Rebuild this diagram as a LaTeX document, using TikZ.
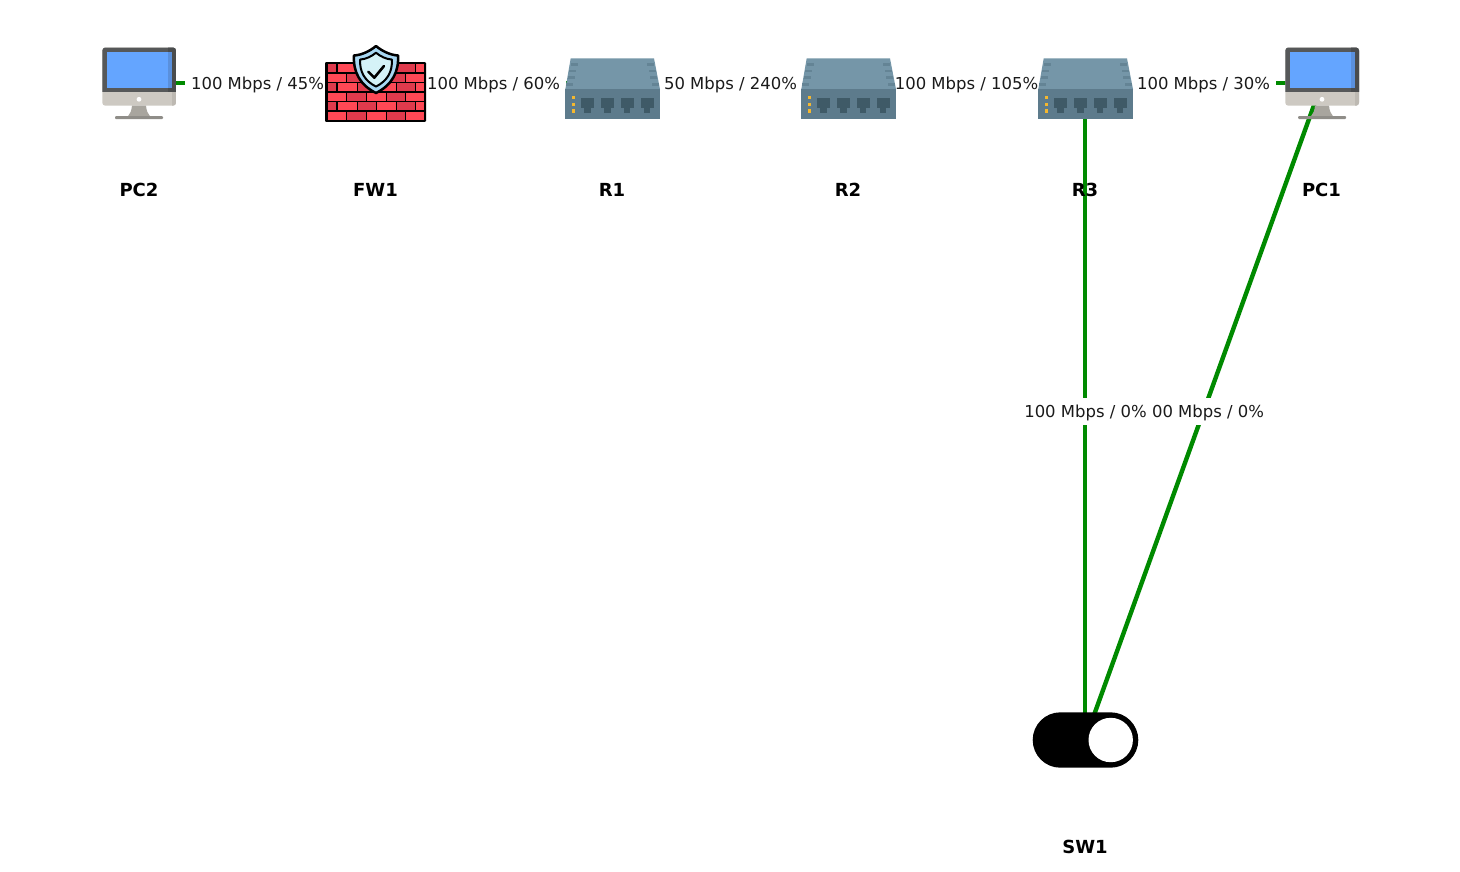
\documentclass[tikz,border=0pt]{standalone}
\usepackage{fontspec}
\setmainfont{DejaVu Sans}
\definecolor{linkgreen}{HTML}{008A00}
\definecolor{labelink}{HTML}{1A1A1A}
\definecolor{pcframe}{HTML}{565859}
\definecolor{pcframedk}{HTML}{4A4C4D}
\definecolor{pcscreen}{HTML}{64A5FF}
\definecolor{pcscreendk}{HTML}{5A90DC}
\definecolor{pcchin}{HTML}{CDC9C2}
\definecolor{pcchindk}{HTML}{BDB9B2}
\definecolor{pcstand}{HTML}{A8A59E}
\definecolor{pcfoot}{HTML}{8F8D88}
\definecolor{rtop}{HTML}{7596A8}
\definecolor{rfront}{HTML}{5D7B8C}
\definecolor{rport}{HTML}{3F5A67}
\definecolor{rvent}{HTML}{648495}
\definecolor{rled}{HTML}{F5B82E}
\definecolor{brickA}{HTML}{FF4855}
\definecolor{brickB}{HTML}{DF3A4C}
\definecolor{shieldA}{HTML}{A9D8F2}
\definecolor{shieldB}{HTML}{D5F2F7}
\newcommand{\shieldpath}{(0,-24) .. controls (6,-19) and (14,-15) .. (22,-14.5) .. controls (23,2) and (16,15) .. (0,23) .. controls (-16,15) and (-23,2) .. (-22,-14.5) .. controls (-14,-15) and (-6,-19) .. (0,-24) -- cycle}
\tikzset{
  x=1pt,y=-1pt,
  link/.style={draw=linkgreen,line width=4.4pt},
  linklabel/.style={fill=white,text=labelink,inner xsep=6.5pt,inner ysep=0pt,minimum height=27pt,text height=13pt,text depth=0pt,font=\fontsize{16.45}{20}\selectfont},
  devname/.style={text=black,inner sep=0pt,font=\fontsize{18}{22}\selectfont\bfseries},
  pcicon/.pic={
    \begin{scope}
      \clip[rounded corners=3pt] (-36.7,-35.5) rectangle (37,22.7);
      \fill[pcchin] (-37,-36) rectangle (38,23);
      \fill[pcchindk] (33,9) rectangle (38,23);
      \fill[pcframe] (-37,-36) rectangle (38,9);
      \fill[pcframedk] (29,-36) rectangle (38,9);
    \end{scope}
    \fill[pcscreen] (-32,-31) rectangle (29,5.3);
    \fill[pcscreendk] (29,-31) rectangle (33,5.3);
    \fill[white] (0,16.3) circle (2.4);
    \fill[pcstand] (-7,22.7) -- (7,22.7) .. controls (7.5,28) and (9,31) .. (11,33.2) -- (-11,33.2) .. controls (-9,31) and (-7.5,28) .. (-7,22.7) -- cycle;
    \fill[pcfoot,rounded corners=1pt] (-24,33) rectangle (24,36);
  },
  routericon/.pic={
    \fill[rtop] (-41.8,-24.7) -- (41.5,-24.7) -- (47.5,6.3) -- (-47.2,6.3) -- cycle;
    \fill[rfront] (-47.5,6.3) rectangle (47.5,36);
    \foreach \dy/\dx in {-18.7/41.5,-12/43.2,-5.3/44.8,1.3/46.2}{
      \fill[rvent] (-\dx,\dy-1.3) rectangle (-\dx+7,\dy+1.3);
      \fill[rvent] (\dx,\dy-1.3) rectangle (\dx-7,\dy+1.3);
    }
    \foreach \ly in {13,19.7,26.3}{
      \fill[rled] (-40.8,\ly) rectangle (-37.8,\ly+3.3);
    }
    \foreach \px in {-31.5,-11.5,8.2,28.2}{
      \fill[rport] (\px,14.7) rectangle (\px+13,25.3);
      \fill[rport] (\px+3.3,25.3) rectangle (\px+9.7,29.5);
    }
  }
}
\begin{document}
\begin{tikzpicture}
\useasboundingbox (0,0) rectangle (1460,871);
% device anchors
\coordinate (pc2) at (139,83);
\coordinate (fw1) at (375.5,83);
\coordinate (r1) at (612.5,83);
\coordinate (r2) at (848.5,83);
\coordinate (r3) at (1085,83);
\coordinate (pc1) at (1322,83);
\coordinate (sw1) at (1085,740);
% connectors
\draw[link] (pc2) -- (fw1);
\draw[link] (fw1) -- (r1);
\draw[link] (r1) -- (r2);
\draw[link] (r2) -- (r3);
\draw[link] (r3) -- (pc1);
\draw[link] (r3) -- (sw1);
\draw[link] (pc1) -- (sw1);
% connector labels
\node[linklabel] (l1) at (257.5,83) {100 Mbps / 45\%};
\node[linklabel] (l2) at (493.5,83) {100 Mbps / 60\%};
\node[linklabel] (l3) at (730.5,83) {50 Mbps / 240\%};
\node[linklabel] (l4) at (966.5,83) {100 Mbps / 105\%};
\node[linklabel] (l5) at (1203.5,83) {100 Mbps / 30\%};
\node[linklabel] (l7) at (1208,411) {00 Mbps / 0\%};
\node[linklabel] (l6) at (1085.5,411) {100 Mbps / 0\%};
% icons
\pic at (pc2) {pcicon};
\pic at (pc1) {pcicon};
\pic at (r1) {routericon};
\pic at (r2) {routericon};
\pic[xshift=0.5pt] at (r3) {routericon};
% firewall
\fill[black,rounded corners=1pt] (325,62) rectangle (426,121.8);
\foreach \ya/\yb in {64/72,83/91,102/110}{
  \foreach \xa/\xb/\c in {327.5/335.5/brickB,337.5/356.5/brickA,357.5/375.5/brickB,376.5/395.5/brickA,396.5/414.5/brickB,416/423.7/brickA}{
    \fill[\c] (\xa,\ya) rectangle (\xb,\yb);
  }
}
\foreach \ya/\yb in {73.5/81.5,92.5/100.5,111.5/119.7}{
  \foreach \xa/\xb/\c in {327.5/345.5/brickA,347/365.5/brickB,366.5/385.5/brickA,386.5/405/brickB,406/423.7/brickA}{
    \fill[\c] (\xa,\ya) rectangle (\xb,\yb);
  }
}
\begin{scope}[shift={(376,70)}]
  \draw[black,line width=2.5pt,fill=shieldA,line join=round] \shieldpath;
  \begin{scope}[scale=0.72]
    \draw[black,line width=2pt,fill=shieldB,line join=round] \shieldpath;
  \end{scope}
  \draw[black,line width=2.6pt,line cap=round,line join=round] (-7.7,1.7) -- (-1.7,7.7) -- (8,-4);
\end{scope}
% switch
\fill[black,rounded corners=27.7pt] (1032.7,712.3) rectangle (1138.3,767.7);
\fill[white] (1110.7,740) circle (22.2);
% device names
\node[devname] (n1) at (139,190) {PC2};
\node[devname] (n2) at (375.5,190) {FW1};
\node[devname] (n3) at (612,190) {R1};
\node[devname] (n4) at (848,190) {R2};
\node[devname] (n5) at (1085,190) {R3};
\node[devname] (n6) at (1321.5,190) {PC1};
\node[devname] (n7) at (1085,847) {SW1};
\end{tikzpicture}
\end{document}
